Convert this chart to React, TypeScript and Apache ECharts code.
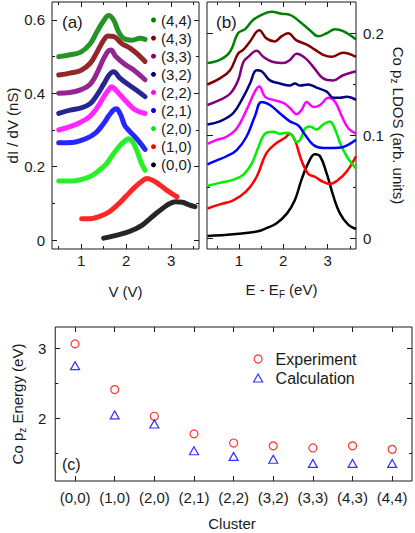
import React, { useEffect, useRef } from 'react';
import * as echarts from 'echarts';

// ---------- data ----------
const clusters = ['(0,0)', '(1,0)', '(2,0)', '(2,1)', '(2,2)', '(3,2)', '(3,3)', '(4,3)', '(4,4)'];
const clusterColors = ['#000000', '#ff0000', '#00ee00', '#0000ff', '#ff00ff', '#000080', '#800080', '#800000', '#008000'];

// (a) dI/dV spectra  [V, nS]
const sts00 = [[1.5, 0.005], [1.75, 0.012], [2.0, 0.02], [2.2, 0.03], [2.35, 0.04], [2.5, 0.055], [2.65, 0.071], [2.8, 0.085], [2.95, 0.098], [3.1, 0.104], [3.25, 0.103], [3.4, 0.096], [3.53, 0.091]];
const sts10 = [[1.01, 0.058], [1.2, 0.058], [1.4, 0.064], [1.6, 0.075], [1.8, 0.095], [2.0, 0.12], [2.2, 0.145], [2.35, 0.16], [2.46, 0.168], [2.6, 0.162], [2.75, 0.15], [2.9, 0.136], [3.05, 0.124], [3.13, 0.118]];
const sts20 = [[0.5, 0.161], [0.8, 0.161], [1.0, 0.165], [1.2, 0.173], [1.4, 0.19], [1.55, 0.206], [1.7, 0.232], [1.85, 0.256], [1.97, 0.27], [2.05, 0.276], [2.15, 0.266], [2.25, 0.24], [2.33, 0.212], [2.42, 0.19]];
const sts21 = [[0.5, 0.265], [0.8, 0.266], [1.0, 0.272], [1.2, 0.282], [1.35, 0.295], [1.5, 0.318], [1.62, 0.34], [1.72, 0.355], [1.78, 0.358], [1.87, 0.343], [1.97, 0.312], [2.05, 0.3], [2.16, 0.286], [2.31, 0.265], [2.42, 0.247]];
const sts22 = [[0.5, 0.3], [0.75, 0.309], [1.0, 0.322], [1.2, 0.338], [1.35, 0.36], [1.5, 0.39], [1.6, 0.408], [1.68, 0.418], [1.76, 0.41], [1.85, 0.398], [2.0, 0.378], [2.2, 0.355], [2.42, 0.345]];
const sts32 = [[0.5, 0.345], [0.75, 0.354], [1.0, 0.36], [1.2, 0.372], [1.35, 0.395], [1.5, 0.425], [1.62, 0.45], [1.72, 0.459], [1.85, 0.443], [2.0, 0.428], [2.2, 0.411], [2.42, 0.391]];
const sts33 = [[0.5, 0.4], [0.75, 0.402], [1.0, 0.41], [1.2, 0.425], [1.35, 0.455], [1.5, 0.495], [1.6, 0.515], [1.66, 0.518], [1.76, 0.502], [1.94, 0.482], [2.16, 0.464], [2.42, 0.437]];
const sts43 = [[0.5, 0.45], [0.75, 0.455], [1.0, 0.463], [1.2, 0.482], [1.35, 0.512], [1.5, 0.545], [1.6, 0.556], [1.72, 0.555], [1.9, 0.536], [2.1, 0.522], [2.27, 0.505], [2.42, 0.487]];
const sts44 = [[0.5, 0.5], [0.75, 0.505], [1.0, 0.513], [1.2, 0.535], [1.35, 0.568], [1.5, 0.598], [1.61, 0.612], [1.72, 0.6], [1.83, 0.568], [1.94, 0.55], [2.13, 0.545], [2.31, 0.55], [2.42, 0.547]];
const stsCurves = [sts00, sts10, sts20, sts21, sts22, sts32, sts33, sts43, sts44];

// (b) Co pz LDOS [E - EF, arb.]
const ldos00 = [[0.29, 0.0023], [0.87, 0.004], [1.4, 0.0065], [1.62, 0.0098], [1.85, 0.0146], [2.08, 0.024], [2.26, 0.037], [2.41, 0.057], [2.56, 0.073], [2.71, 0.082], [2.83, 0.08], [2.98, 0.063], [3.13, 0.041], [3.28, 0.024], [3.47, 0.013], [3.64, 0.009]];
const ldos10 = [[0.29, 0.029], [0.57, 0.033], [0.87, 0.037], [1.17, 0.046], [1.4, 0.06], [1.62, 0.083], [1.85, 0.093], [2.04, 0.098], [2.15, 0.102], [2.26, 0.096], [2.41, 0.076], [2.56, 0.063], [2.71, 0.06], [2.9, 0.055], [3.05, 0.053], [3.24, 0.057], [3.43, 0.065], [3.64, 0.08]];
const ldos20 = [[0.29, 0.051], [0.57, 0.054], [0.87, 0.057], [1.1, 0.062], [1.29, 0.073], [1.44, 0.089], [1.59, 0.102], [1.77, 0.104], [1.92, 0.102], [2.08, 0.103], [2.19, 0.101], [2.3, 0.094], [2.38, 0.096], [2.49, 0.107], [2.6, 0.109], [2.75, 0.106], [2.9, 0.111], [3.05, 0.114], [3.17, 0.106], [3.28, 0.093], [3.43, 0.08], [3.64, 0.068]];
const ldos21 = [[0.29, 0.072], [0.5, 0.076], [0.72, 0.08], [0.95, 0.086], [1.17, 0.099], [1.36, 0.119], [1.51, 0.133], [1.7, 0.13], [1.92, 0.122], [2.15, 0.114], [2.34, 0.11], [2.49, 0.101], [2.68, 0.091], [2.9, 0.088], [3.13, 0.088], [3.35, 0.089], [3.64, 0.096]];
const ldos22 = [[0.29, 0.092], [0.5, 0.096], [0.72, 0.099], [0.95, 0.107], [1.17, 0.125], [1.36, 0.143], [1.46, 0.148], [1.59, 0.138], [1.77, 0.135], [2.0, 0.132], [2.15, 0.127], [2.3, 0.121], [2.41, 0.125], [2.53, 0.133], [2.68, 0.128], [2.83, 0.13], [3.02, 0.137], [3.17, 0.133], [3.32, 0.119], [3.47, 0.107], [3.64, 0.102]];
const ldos32 = [[0.29, 0.111], [0.57, 0.114], [0.87, 0.122], [1.1, 0.138], [1.25, 0.151], [1.4, 0.164], [1.51, 0.163], [1.7, 0.154], [1.92, 0.151], [2.15, 0.149], [2.26, 0.151], [2.38, 0.149], [2.56, 0.15], [2.75, 0.147], [2.98, 0.143], [3.13, 0.137], [3.28, 0.137], [3.43, 0.138], [3.64, 0.135]];
const ldos33 = [[0.29, 0.13], [0.57, 0.135], [0.8, 0.141], [0.98, 0.154], [1.1, 0.172], [1.21, 0.177], [1.4, 0.183], [1.55, 0.177], [1.77, 0.172], [2.0, 0.171], [2.15, 0.174], [2.3, 0.18], [2.49, 0.176], [2.68, 0.167], [2.9, 0.156], [3.13, 0.154], [3.35, 0.159], [3.64, 0.163]];
const ldos43 = [[0.29, 0.15], [0.57, 0.156], [0.8, 0.164], [0.98, 0.18], [1.1, 0.184], [1.25, 0.192], [1.46, 0.203], [1.62, 0.195], [1.81, 0.192], [1.96, 0.197], [2.11, 0.2], [2.3, 0.193], [2.53, 0.189], [2.71, 0.184], [2.9, 0.179], [3.09, 0.177], [3.35, 0.181], [3.64, 0.177]];
const ldos44 = [[0.29, 0.171], [0.57, 0.174], [0.8, 0.182], [0.98, 0.2], [1.14, 0.204], [1.32, 0.213], [1.51, 0.218], [1.74, 0.221], [1.96, 0.219], [2.15, 0.218], [2.38, 0.211], [2.6, 0.203], [2.79, 0.197], [2.98, 0.2], [3.17, 0.204], [3.35, 0.202], [3.64, 0.194]];
const ldosCurves = [ldos00, ldos10, ldos20, ldos21, ldos22, ldos32, ldos33, ldos43, ldos44];

// (c) peak energies (eV)
const experimentEnergy = [3.06, 2.41, 2.03, 1.78, 1.65, 1.61, 1.58, 1.61, 1.56];
const calculationEnergy = [2.75, 2.05, 1.92, 1.54, 1.46, 1.42, 1.36, 1.36, 1.36];

// tick values
const stsXMajor = [1, 2, 3];
const stsXMinor = [0.5, 1.5, 2.5, 3.5];
const stsYMajor = [0, 0.2, 0.4, 0.6];
const stsYMinor = [0.1, 0.3, 0.5];
const ldosXMajor = [1, 2, 3];
const ldosXMinor = [0.5, 1.5, 2.5, 3.5];
const ldosYMajor = [0, 0.1, 0.2];
const ldosYMinor = [0.05, 0.15];
const energyYMajor = [2, 3];
const energyYMinor = [1.5, 2.5];

// ---------- style helpers ----------
const FONT = "'Liberation Sans', Arial, Helvetica, sans-serif";
const INK = '#1a1a1a';

function vAxis(gridIndex: number, min: number, max: number, position: string, ticks: number[], len: number, labels: boolean, extra: any = {}) {
  return {
    type: 'value',
    gridIndex,
    min,
    max,
    position,
    axisLine: { show: false, onZero: false },
    splitLine: { show: false },
    axisTick: { show: true, inside: true, length: len, customValues: ticks, lineStyle: { color: INK, width: 1 } },
    axisLabel: labels
      ? { show: true, customValues: ticks, fontSize: 15, fontFamily: FONT, color: INK, margin: 6 }
      : { show: false },
    ...extra,
  };
}

const subRich = { sub: { fontSize: 10, lineHeight: 10, padding: [9, 0, 0, 0], fontFamily: FONT, color: INK } };
const nameStyle = { fontSize: 15, fontFamily: FONT, color: INK, rich: subRich };

const GC = { left: 52, top: 327, width: 360, height: 154 };

export default function App() {
  const ref = useRef<HTMLDivElement>(null);

  useEffect(() => {
    if (!ref.current) return;
    const chart = echarts.init(ref.current, null, { renderer: 'svg' });

    const A = { min: 0.35, max: 3.62, ymin: -0.0245, ymax: 0.649 };
    const B = { min: 0.28, max: 3.64, ymin: -0.0105, ymax: 0.2305 };
    const C = { ymin: 1.11, ymax: 3.3 };

    const gridStyle = { show: true, borderColor: INK, borderWidth: 1, backgroundColor: 'transparent' };

    const option: any = {
      animation: false,
      backgroundColor: '#fff',
      grid: [
        { left: 52, top: 2, width: 147, height: 247, ...gridStyle },
        { left: 207, top: 2, width: 149, height: 247, ...gridStyle },
        { ...GC, ...gridStyle },
      ],
      xAxis: [
        vAxis(0, A.min, A.max, 'bottom', stsXMajor, 5, true, {
          name: 'V (V)', nameLocation: 'middle', nameGap: 35, nameTextStyle: nameStyle,
          axisLabel: { show: true, customValues: stsXMajor, fontSize: 15, fontFamily: FONT, color: INK, margin: 4 },
        }),
        vAxis(0, A.min, A.max, 'top', stsXMajor, 5, false),
        vAxis(0, A.min, A.max, 'bottom', stsXMinor, 3, false),
        vAxis(0, A.min, A.max, 'top', stsXMinor, 3, false),
        vAxis(1, B.min, B.max, 'bottom', ldosXMajor, 5, true, {
          name: 'E - E{sub|F} (eV)', nameLocation: 'middle', nameGap: 33, nameTextStyle: nameStyle,
          axisLabel: { show: true, customValues: ldosXMajor, fontSize: 15, fontFamily: FONT, color: INK, margin: 4 },
        }),
        vAxis(1, B.min, B.max, 'top', ldosXMajor, 5, false),
        vAxis(1, B.min, B.max, 'bottom', ldosXMinor, 3, false),
        vAxis(1, B.min, B.max, 'top', ldosXMinor, 3, false),
        {
          type: 'category', gridIndex: 2, position: 'bottom', data: clusters, boundaryGap: true,
          axisLine: { show: false, onZero: false },
          axisTick: { show: true, inside: true, length: 5, alignWithLabel: true, interval: 0, lineStyle: { color: INK } },
          axisLabel: { show: true, interval: 0, fontSize: 15, fontFamily: FONT, color: INK, margin: 9 },
        },
        {
          type: 'category', gridIndex: 2, position: 'top', data: clusters, boundaryGap: true,
          axisLine: { show: false, onZero: false },
          axisTick: { show: true, inside: true, length: 5, alignWithLabel: true, interval: 0, lineStyle: { color: INK } },
          axisLabel: { show: false },
        },
      ],
      yAxis: [
        vAxis(0, A.ymin, A.ymax, 'left', stsYMajor, 5, true, {
          name: 'dI / dV (nS)', nameLocation: 'middle', nameGap: 32, nameRotate: 90, nameTextStyle: nameStyle,
          axisLabel: { show: true, customValues: stsYMajor, fontSize: 15, fontFamily: FONT, color: INK, margin: 7 },
        }),
        vAxis(0, A.ymin, A.ymax, 'right', stsYMajor, 5, false),
        vAxis(0, A.ymin, A.ymax, 'left', stsYMinor, 3, false),
        vAxis(0, A.ymin, A.ymax, 'right', stsYMinor, 3, false),
        vAxis(1, B.ymin, B.ymax, 'right', ldosYMajor, 6, true, {
          name: 'Co p{sub|z} LDOS (arb. units)', nameLocation: 'middle', nameGap: 35, nameRotate: -90, nameTextStyle: nameStyle,
          axisLabel: { show: true, customValues: ldosYMajor, fontSize: 15, fontFamily: FONT, color: INK, margin: 7 },
        }),
        vAxis(1, B.ymin, B.ymax, 'left', ldosYMajor, 6, false),
        vAxis(1, B.ymin, B.ymax, 'left', ldosYMinor, 3, false),
        vAxis(1, B.ymin, B.ymax, 'right', ldosYMinor, 3, false),
        vAxis(2, C.ymin, C.ymax, 'left', energyYMajor, 5, true, {
          name: 'Co p{sub|z} Energy (eV)', nameLocation: 'middle', nameGap: 30, nameRotate: 90, nameTextStyle: nameStyle,
          axisLabel: { show: true, customValues: energyYMajor, fontSize: 15, fontFamily: FONT, color: INK, margin: 9 },
        }),
        vAxis(2, C.ymin, C.ymax, 'right', energyYMajor, 5, false),
        vAxis(2, C.ymin, C.ymax, 'left', energyYMinor, 3, false),
        vAxis(2, C.ymin, C.ymax, 'right', energyYMinor, 3, false),
      ],
      legend: [
        {
          data: clusters.slice().reverse(),
          orient: 'vertical',
          left: 151,
          top: 11,
          padding: 0,
          itemGap: 0.1,
          itemWidth: 5,
          itemHeight: 5,
          icon: 'circle',
          selectedMode: false,
          textStyle: { fontSize: 15, fontFamily: FONT, color: INK, lineHeight: 18 },
        },
        {
          data: [
            { name: 'Experiment', icon: 'circle', itemStyle: { color: 'rgba(0,0,0,0)', borderColor: '#ff0000', borderWidth: 1.2 } },
            { name: 'Calculation', icon: 'triangle', itemStyle: { color: 'rgba(0,0,0,0)', borderColor: '#0000ff', borderWidth: 1.2 } },
          ],
          orient: 'vertical',
          left: 253,
          top: 349.5,
          padding: 0,
          itemGap: 0,
          itemWidth: 9,
          itemHeight: 8,
          selectedMode: false,
          textStyle: { fontSize: 16, fontFamily: FONT, color: INK, lineHeight: 19, padding: [0, 0, 0, 8] },
        },
      ],
      graphic: [
        { type: 'text', x: 62, y: 22, style: { text: '(a)', fontSize: 17, fontFamily: FONT, fill: INK, textVerticalAlign: 'middle' } },
        { type: 'text', x: 216, y: 22, style: { text: '(b)', fontSize: 17, fontFamily: FONT, fill: INK, textVerticalAlign: 'middle' } },
        { type: 'text', x: 62, y: 464, style: { text: '(c)', fontSize: 16, fontFamily: FONT, fill: INK, textVerticalAlign: 'middle' } },
        {
          type: 'text', x: GC.left + GC.width / 2, y: 523,
          style: { text: 'Cluster', fontSize: 15, fontFamily: FONT, fill: INK, textAlign: 'center', textVerticalAlign: 'middle' },
        },
      ],
      series: [
        ...stsCurves.map((d, i) => ({
          name: clusters[i],
          type: 'line',
          xAxisIndex: 0,
          yAxisIndex: 0,
          data: d,
          smooth: 0.4,
          symbol: 'none',
          itemStyle: { color: clusterColors[i] },
          lineStyle: { color: clusterColors[i], width: 5, cap: 'round', opacity: 0.85 },
        })),
        ...ldosCurves.map((d, i) => ({
          name: clusters[i],
          type: 'line',
          xAxisIndex: 4,
          yAxisIndex: 4,
          data: d,
          smooth: 0.4,
          symbol: 'none',
          itemStyle: { color: clusterColors[i] },
          lineStyle: { color: clusterColors[i], width: 2.5 },
        })),
        {
          name: 'Experiment',
          type: 'scatter',
          xAxisIndex: 8,
          yAxisIndex: 8,
          data: experimentEnergy,
          symbol: 'circle',
          symbolSize: 8,
          itemStyle: { color: 'rgba(0,0,0,0)', borderColor: '#ff0000', borderWidth: 1.2 },
        },
        {
          name: 'Calculation',
          type: 'scatter',
          xAxisIndex: 8,
          yAxisIndex: 8,
          data: calculationEnergy,
          symbol: 'triangle',
          symbolSize: [9, 8],
          itemStyle: { color: 'rgba(0,0,0,0)', borderColor: '#0000ff', borderWidth: 1.2 },
        },
      ],
    };

    chart.setOption(option);
    return () => chart.dispose();
  }, []);

  return <div ref={ref} style={{ position: 'absolute', left: 0, top: 0, width: 415, height: 533 }} />;
}
